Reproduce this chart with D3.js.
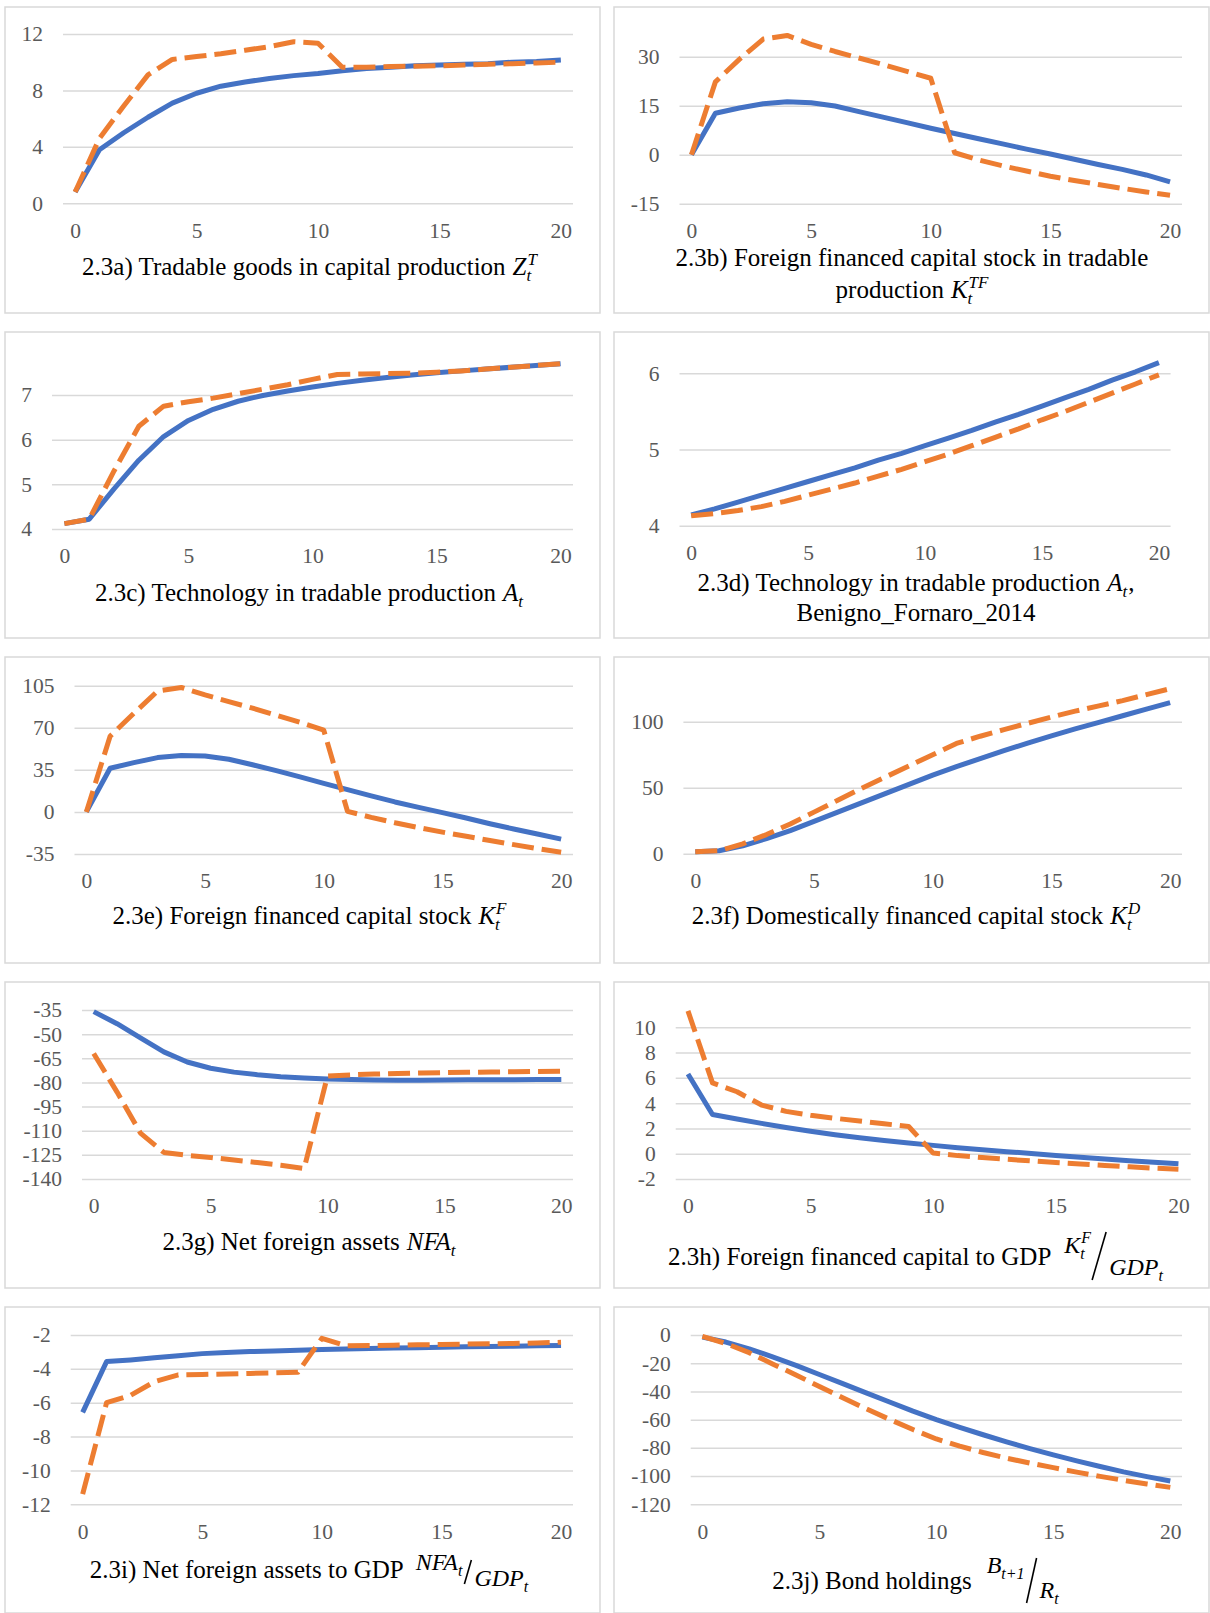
<!DOCTYPE html>
<html>
<head>
<meta charset="utf-8">
<script src="https://cdn.jsdelivr.net/npm/d3@7"></script>
<style>
  body { margin: 0; background: #fff; }
  svg { display: block; }
  svg text { font-family: "Liberation Serif", "Times New Roman", "DejaVu Serif", serif; }
</style>
</head>
<body>
<svg id="chart" width="1210" height="1613"></svg>
<script>
// periods on the category axis
var periods = [0, 1, 2, 3, 4, 5, 6, 7, 8, 9, 10, 11, 12, 13, 14, 15, 16, 17, 18, 19, 20];
var xTickLabels = [0, 5, 10, 15, 20];

// 2.3a) Z_t^T
var aBlue = [0.8, 3.8, 5.0, 6.1, 7.1, 7.8, 8.3, 8.6, 8.85, 9.05, 9.2, 9.4, 9.55, 9.65, 9.75, 9.8, 9.85, 9.9, 10.0, 10.05, 10.15];
var aOrange = [0.8, 4.6, 6.9, 9.1, 10.2, 10.4, 10.6, 10.85, 11.1, 11.45, 11.35, 9.65, 9.65, 9.7, 9.72, 9.75, 9.8, 9.85, 9.9, 9.95, 10.0];
var aTicks = [0, 4, 8, 12];

// 2.3b) K_t^TF
var bBlue = [0, 12.7, 14.3, 15.6, 16.2, 15.9, 14.9, 13.2, 11.5, 9.8, 8.1, 6.5, 4.9, 3.3, 1.7, 0.2, -1.4, -3.0, -4.5, -6.2, -8.3];
var bOrange = [0, 22.3, 29.2, 35.4, 36.5, 33.8, 31.6, 29.6, 27.6, 25.5, 23.4, 0.6, -1.6, -3.4, -5.0, -6.6, -7.9, -9.1, -10.3, -11.4, -12.4];
var bTicks = [-15, 0, 15, 30];

// 2.3c) A_t
var cBlue = [4.12, 4.22, 4.9, 5.54, 6.07, 6.43, 6.68, 6.86, 6.99, 7.09, 7.18, 7.26, 7.33, 7.39, 7.45, 7.5, 7.54, 7.58, 7.62, 7.66, 7.7];
var cOrange = [4.12, 4.22, 5.3, 6.3, 6.75, 6.85, 6.93, 7.03, 7.13, 7.23, 7.35, 7.46, 7.47, 7.48, 7.49, 7.51, 7.54, 7.58, 7.62, 7.66, 7.7];
var cTicks = [4, 5, 6, 7];

// 2.3d) A_t, Benigno_Fornaro_2014
var dBlue = [4.14, 4.22, 4.31, 4.4, 4.49, 4.58, 4.67, 4.76, 4.86, 4.95, 5.05, 5.15, 5.25, 5.36, 5.46, 5.57, 5.68, 5.79, 5.91, 6.02, 6.14];
var dOrange = [4.13, 4.16, 4.2, 4.25, 4.32, 4.4, 4.48, 4.56, 4.65, 4.74, 4.84, 4.94, 5.05, 5.16, 5.27, 5.39, 5.5, 5.62, 5.74, 5.86, 5.98];
var dTicks = [4, 5, 6];

// 2.3e) K_t^F
var eBlue = [0, 36.3, 41, 45.2, 47, 46.5, 43.8, 39.2, 34.4, 29.1, 23.8, 18.5, 13.3, 8.3, 3.8, -0.6, -5.0, -9.8, -14.2, -18.4, -22.6];
var eOrange = [0, 63, 82, 100.5, 103.5, 97.3, 91.8, 86.3, 80.5, 74.5, 68, 0.5, -4.5, -9, -13, -16.8, -20.3, -23.8, -27.2, -30.5, -33.5];
var eTicks = [-35, 0, 35, 70, 105];

// 2.3f) K_t^D
var fBlue = [1.5, 2.2, 6, 11.5, 17.5, 24.5, 31.5, 38.5, 45.5, 52.5, 59.5, 66, 72, 78, 83.8, 89.2, 94.5, 99.5, 104.5, 109.5, 114.5];
var fOrange = [1.5, 2.2, 7.5, 14.5, 22.5, 31.5, 40.5, 49.5, 58, 66.5, 75, 83.5, 89, 94, 98.8, 103.5, 108, 112, 116, 120.5, 125];
var fTicks = [0, 50, 100];

// 2.3g) NFA_t
var gBlue = [-36, -43.5, -52.3, -61, -67.3, -71.2, -73.6, -75.2, -76.4, -77.2, -77.8, -78.2, -78.5, -78.7, -78.6, -78.5, -78.4, -78.3, -78.3, -78.2, -78.2];
var gOrange = [-62, -86, -111.5, -123.5, -125.3, -126.6, -128.2, -129.8, -131.5, -133.5, -76, -75.3, -74.8, -74.4, -74.1, -73.9, -73.7, -73.5, -73.4, -73.2, -73.1];
var gTicks = [-140, -125, -110, -95, -80, -65, -50, -35];

// 2.3h) K_t^F / GDP_t
var hBlue = [6.3, 3.1, 2.75, 2.4, 2.07, 1.77, 1.5, 1.27, 1.05, 0.85, 0.66, 0.48, 0.32, 0.16, 0.02, -0.14, -0.28, -0.42, -0.55, -0.68, -0.8];
var hOrange = [11.3, 5.6, 4.9, 3.85, 3.35, 3.05, 2.8, 2.58, 2.37, 2.15, 0.05, -0.15, -0.3, -0.44, -0.57, -0.7, -0.82, -0.93, -1.04, -1.14, -1.22];
var hTicks = [-2, 0, 2, 4, 6, 8, 10];

// 2.3i) NFA_t / GDP_t
var iBlue = [-6.57, -3.57, -3.47, -3.35, -3.22, -3.1, -3.03, -2.98, -2.94, -2.9, -2.86, -2.83, -2.8, -2.77, -2.75, -2.72, -2.7, -2.68, -2.66, -2.64, -2.62];
var iOrange = [-11.4, -6.0, -5.57, -4.76, -4.35, -4.33, -4.3, -4.27, -4.24, -4.2, -2.2, -2.63, -2.62, -2.6, -2.58, -2.56, -2.54, -2.52, -2.5, -2.47, -2.43];
var iTicks = [-12, -10, -8, -6, -4, -2];

// 2.3j) B_{t+1} / R_t
var jBlue = [-1.5, -5, -9.8, -15.5, -21.5, -28, -34.5, -41, -47.5, -54, -60, -65.5, -70.7, -75.7, -80.5, -85, -89.2, -93.2, -97, -100.4, -103.5];
var jOrange = [-1, -6, -12.5, -20.5, -28.3, -36.5, -44.5, -52.3, -59.8, -67, -73.7, -78.8, -83.3, -87.3, -90.8, -94, -97.2, -100.2, -103, -105.6, -108];
var jTicks = [-120, -100, -80, -60, -40, -20, 0];

var FONT = "Liberation Serif, Times New Roman, DejaVu Serif, serif";
var BLUE = "#4472C4", ORANGE = "#ED7D31";

// layout of each panel (box, plot extents, title placement)
var panels = [
  { box: [5, 7], plot: [63, 573, 203.3, 34], ticks: aTicks, blue: aBlue, orange: aOrange, cx: 309.5, ty: [275],
    title: [[{t: "2.3a) Tradable goods in capital production"}, {gap: 7}, {m: "Z", sub: "t", sup: "T"}]] },
  { box: [614, 7], plot: [679.5, 1182, 203.7, 56.7], ticks: bTicks, blue: bBlue, orange: bOrange, cx: 912, ty: [266, 298],
    title: [[{t: "2.3b) Foreign financed capital stock in tradable"}],
            [{t: "production"}, {gap: 7}, {m: "K", sub: "t", sup: "TF"}]] },
  { box: [5, 332], plot: [52, 573, 529, 395], ticks: cTicks, blue: cBlue, orange: cOrange, cx: 309.5, ty: [601],
    title: [[{t: "2.3c) Technology in tradable production"}, {gap: 7}, {m: "A", sub: "t"}]] },
  { box: [614, 332], plot: [679.5, 1170.6, 525.7, 373.3], ticks: dTicks, blue: dBlue, orange: dOrange, cx: 916, ty: [591, 621],
    title: [[{t: "2.3d) Technology in tradable production"}, {gap: 7}, {m: "A", sub: "t"}, {t: ","}],
            [{t: "Benigno_Fornaro_2014"}]] },
  { box: [5, 657], plot: [74.5, 573, 854, 685.7], ticks: eTicks, blue: eBlue, orange: eOrange, cx: 309.5, ty: [924],
    title: [[{t: "2.3e) Foreign financed capital stock"}, {gap: 7}, {m: "K", sub: "t", sup: "F"}]] },
  { box: [614, 657], plot: [683.4, 1182, 853.7, 721.7], ticks: fTicks, blue: fBlue, orange: fOrange, cx: 916, ty: [924],
    title: [[{t: "2.3f) Domestically financed capital stock"}, {gap: 7}, {m: "K", sub: "t", sup: "D"}]] },
  { box: [5, 982], plot: [82, 573, 1179, 1010], ticks: gTicks, blue: gBlue, orange: gOrange, cx: 309.5, ty: [1250],
    title: [[{t: "2.3g) Net foreign assets"}, {gap: 7}, {m: "NFA", sub: "t"}]] },
  { box: [614, 982], plot: [675.7, 1190.7, 1179, 1027.3], ticks: hTicks, blue: hBlue, orange: hOrange, cx: 916, ty: [1265],
    title: [[{t: "2.3h) Foreign financed capital to GDP"}, {gap: 13},
             {frac: {num: [{m: "K", sub: "t", sup: "F"}], den: [{m: "GDP", sub: "t"}], numDy: -12, denDy: 10, top: -33, bot: 15, w: 14}}]] },
  { box: [5, 1307], plot: [70.7, 573, 1504.3, 1335], ticks: iTicks, blue: iBlue, orange: iOrange, cx: 309.5, ty: [1578],
    title: [[{t: "2.3i) Net foreign assets to GDP"}, {gap: 12},
             {frac: {num: [{m: "NFA", sub: "t"}], den: [{m: "GDP", sub: "t"}], numDy: -8, denDy: 8, top: -18, bot: 6, w: 7}}]] },
  { box: [614, 1307], plot: [690.7, 1182, 1504.3, 1335], ticks: jTicks, blue: jBlue, orange: jOrange, cx: 916, ty: [1589],
    title: [[{t: "2.3j) Bond holdings"}, {gap: 15},
             {frac: {num: [{m: "B", sub: "t+1"}], den: [{m: "R", sub: "t"}], numDy: -16, denDy: 9, top: -31, bot: 14, w: 10}}]] }
];

var svg = d3.select("#chart");
svg.append("rect").attr("width", 1210).attr("height", 1613).attr("fill", "#fff");

function addText(g, str, x, y, size, italic) {
  var t = g.append("text")
      .attr("x", x).attr("y", y)
      .style("font-family", FONT)
      .style("font-size", size + "px")
      .style("font-style", italic ? "italic" : "normal")
      .attr("fill", "#000")
      .text(str);
  return t.node().getComputedTextLength();
}

// italic symbol with optional sub/superscript, returns width
function addMath(g, seg, x, y, size, small) {
  var w = addText(g, seg.m, x, y, size, true);
  var sw = 0;
  if (seg.sup) sw = Math.max(sw, addText(g, seg.sup, x + w + 1, y - size * 0.42, small, true));
  if (seg.sub) sw = Math.max(sw, addText(g, seg.sub, x + w, y + size * 0.25, small, true));
  return w + sw + (sw ? 1 : 0);
}

function addSegs(g, segs, x, y, size, small) {
  segs.forEach(function(s) {
    if (s.gap) x += s.gap;
    else if (s.t) x += addText(g, s.t, x, y, size, false);
    else if (s.m) x += addMath(g, s, x, y, size, small);
    else if (s.frac) {
      var f = s.frac;
      x = addSegs(g, f.num, x, y + f.numDy, 24, 16);
      g.append("line")
          .attr("x1", x + 1).attr("y1", y + f.bot)
          .attr("x2", x + 1 + f.w).attr("y2", y + f.top)
          .attr("stroke", "#000").attr("stroke-width", 1.6);
      x = addSegs(g, f.den, x + f.w + 4, y + f.denDy, 24, 16);
    }
  });
  return x;
}

panels.forEach(function(p) {
  var g = svg.append("g");

  g.append("rect")
      .attr("x", p.box[0]).attr("y", p.box[1])
      .attr("width", 595).attr("height", 306)
      .attr("fill", "#fff")
      .attr("stroke", "#d9d9d9").attr("stroke-width", 1.5);

  var x = d3.scalePoint().domain(periods).range([p.plot[0], p.plot[1]]).padding(0.5);
  var y = d3.scaleLinear()
      .domain([p.ticks[0], p.ticks[p.ticks.length - 1]])
      .range([p.plot[2], p.plot[3]]);

  // gridlines + y labels
  var ya = g.append("g")
      .attr("transform", "translate(" + p.plot[0] + ",0)")
      .call(d3.axisLeft(y).tickValues(p.ticks).tickFormat(function(d) { return String(d); })
        .tickSize(-(p.plot[1] - p.plot[0])).tickPadding(20));
  ya.attr("font-family", null).attr("font-size", null);
  ya.select(".domain").remove();
  ya.selectAll(".tick line").attr("stroke", "#d9d9d9").attr("stroke-width", 1.5);
  ya.selectAll(".tick text").attr("fill", "#595959")
      .style("font-family", FONT).style("font-size", "21.5px");

  // x labels
  var xa = g.append("g")
      .attr("transform", "translate(0," + p.plot[2] + ")")
      .call(d3.axisBottom(x).tickValues(xTickLabels).tickSize(0).tickPadding(19));
  xa.attr("font-family", null).attr("font-size", null);
  xa.select(".domain").remove();
  xa.selectAll(".tick text").attr("fill", "#595959")
      .style("font-family", FONT).style("font-size", "21.5px");

  var line = d3.line()
      .x(function(d, i) { return x(periods[i]); })
      .y(function(d) { return y(d); });

  g.append("path").datum(p.blue)
      .attr("d", line)
      .attr("fill", "none").attr("stroke", BLUE).attr("stroke-width", 5)
      .attr("stroke-linejoin", "round");
  g.append("path").datum(p.orange)
      .attr("d", line)
      .attr("fill", "none").attr("stroke", ORANGE).attr("stroke-width", 5)
      .attr("stroke-linejoin", "round")
      .attr("stroke-dasharray", "22,8");

  // title lines, centred
  p.title.forEach(function(segs, k) {
    var tg = g.append("g");
    var w = addSegs(tg, segs, 0, p.ty[k], 25, 17);
    tg.attr("transform", "translate(" + (p.cx - w / 2) + ",0)");
  });
});
</script>
</body>
</html>
